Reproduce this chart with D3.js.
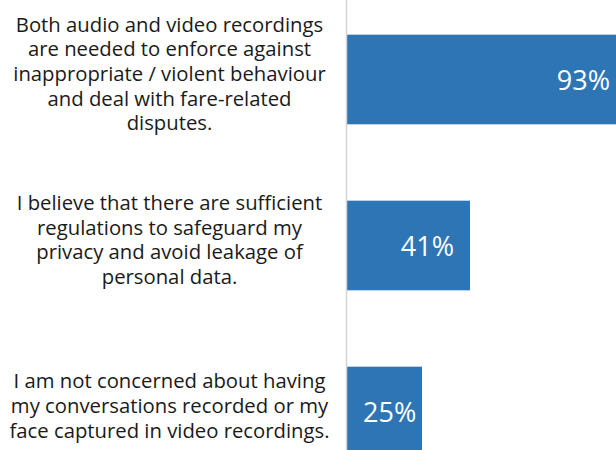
<!DOCTYPE html>
<html>
<head>
<meta charset="utf-8">
<script src="https://cdn.jsdelivr.net/npm/d3@7"></script>
<style>
  html, body { margin: 0; padding: 0; background: #ffffff; overflow: hidden; }
  svg { display: block; }
</style>
</head>
<body>
<svg id="chart" width="616" height="450"></svg>
<script>
// ---- data ----
const categories = [
  "Both audio and video recordings are needed to enforce against inappropriate / violent behaviour and deal with fare-related disputes.",
  "I believe that there are sufficient regulations to safeguard my privacy and avoid leakage of personal data.",
  "I am not concerned about having my conversations recorded or my face captured in video recordings."
];
const categoryLines = [
  ["Both audio and video recordings", "are needed to enforce against", "inappropriate / violent behaviour", "and deal with fare-related", "disputes."],
  ["I believe that there are sufficient", "regulations to safeguard my", "privacy and avoid leakage of", "personal data."],
  ["I am not concerned about having", "my conversations recorded or my", "face captured in video recordings."]
];
const values = [93, 41, 25];
const valueLabels = ["93%", "41%", "25%"];

// ---- layout ----
const W = 616, H = 450;
const axisX = 347;
const svg = d3.select("#chart");

const x = d3.scaleLinear().domain([0, 100]).range([axisX, axisX + 300]);
const y = d3.scaleBand().domain(categories).range([-3.5, 494.5])
  .paddingInner(0.46).paddingOuter(0.23);

const font = "'Open Sans', 'Segoe UI', sans-serif";

// bars
svg.append("g").selectAll("rect")
  .data(categories)
  .join("rect")
  .attr("x", x(0))
  .attr("y", d => y(d))
  .attr("width", (d, i) => x(values[i]) - x(0))
  .attr("height", y.bandwidth())
  .attr("fill", "#2E75B6");

// value labels
const pad = 16;
svg.append("g").selectAll("text")
  .data(categories)
  .join("text")
  .attr("font-family", font)
  .attr("font-size", 27)
  .attr("fill", "#ffffff")
  .attr("dominant-baseline", "central")
  .attr("y", d => y(d) + y.bandwidth() / 2)
  .text((d, i) => valueLabels[i])
  .each(function(d, i) {
    const w = this.getComputedTextLength();
    let right = x(values[i]) - pad;
    if (right - w < x(0) + pad) right = x(0) + pad + w;
    d3.select(this).attr("x", right).attr("text-anchor", "end");
  });

// axis line
svg.append("line")
  .attr("x1", axisX - 0.5).attr("x2", axisX - 0.5)
  .attr("y1", 0).attr("y2", H)
  .attr("stroke", "#d4d4d4").attr("stroke-width", 1.5);

// category labels
const lineH = 24.7;
const labelG = svg.append("g");
categories.forEach((c, i) => {
  const lines = categoryLines[i];
  const cy = y(c) + y.bandwidth() / 2 + 1.5;
  const t = labelG.append("text")
    .attr("font-family", font)
    .attr("font-size", 20.3)
    .attr("fill", "#1a1a1a")
    .attr("text-anchor", "middle");
  lines.forEach((ln, j) => {
    t.append("tspan")
      .attr("x", 169.5)
      .attr("y", cy + (j - (lines.length - 1) / 2) * lineH)
      .text(ln);
  });
});
</script>
</body>
</html>
